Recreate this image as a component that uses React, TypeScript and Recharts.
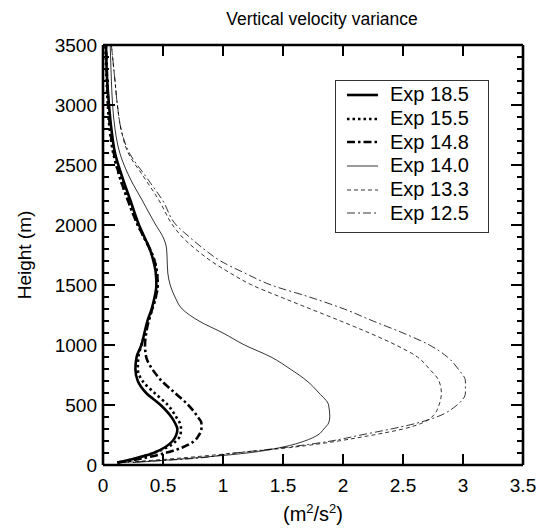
import { LineChart, Line, XAxis, YAxis, Legend } from "recharts";

// heights (m) shared by all profiles
const heights = [
  20, 50, 100, 150, 200, 250, 300, 350, 400, 500, 600, 700, 800, 900, 1000, 1100,
  1200, 1300, 1400, 1500, 1600, 1700, 1800, 1900, 2000, 2200, 2400, 2600, 2800, 3000, 3200, 3500,
];

const exp185 = [
  0.12, 0.25, 0.42, 0.52, 0.58, 0.61, 0.62, 0.6, 0.57, 0.48, 0.36, 0.29, 0.27, 0.28, 0.32, 0.345,
  0.37, 0.405, 0.43, 0.445, 0.44, 0.42, 0.39, 0.345, 0.3, 0.23, 0.16, 0.1, 0.07, 0.05, 0.035, 0.025,
];
const exp155 = [
  0.12, 0.26, 0.42, 0.54, 0.61, 0.645, 0.65, 0.64, 0.61, 0.54, 0.43, 0.33, 0.29, 0.295, 0.32, 0.35,
  0.38, 0.41, 0.44, 0.455, 0.45, 0.43, 0.39, 0.34, 0.29, 0.21, 0.14, 0.085, 0.055, 0.04, 0.03, 0.02,
];
const exp148 = [
  0.12, 0.3, 0.52, 0.67, 0.76, 0.8, 0.82, 0.82, 0.79, 0.71, 0.6, 0.49, 0.41, 0.36, 0.35, 0.36,
  0.38, 0.41, 0.44, 0.455, 0.45, 0.43, 0.39, 0.34, 0.29, 0.21, 0.14, 0.09, 0.06, 0.045, 0.035, 0.025,
];
const exp140 = [
  0.25, 0.65, 1.2, 1.5, 1.68, 1.79, 1.84, 1.88, 1.89, 1.88, 1.8, 1.7, 1.56, 1.4, 1.18, 1.0,
  0.8, 0.66, 0.6, 0.56, 0.54, 0.535, 0.53, 0.5, 0.44, 0.33, 0.22, 0.14, 0.1, 0.08, 0.07, 0.06,
];
const exp133 = [
  0.15, 0.55, 1.1, 1.6, 1.96, 2.25, 2.5, 2.66, 2.74, 2.8, 2.82, 2.8, 2.72, 2.62, 2.44, 2.22,
  1.98, 1.73, 1.48, 1.24, 1.06, 0.9, 0.77, 0.66, 0.58, 0.47, 0.34, 0.21, 0.15, 0.12, 0.1, 0.07,
];
const exp125 = [
  0.15, 0.7, 1.1, 1.55, 1.9, 2.15, 2.4, 2.62, 2.78, 2.95, 3.02, 3.02, 2.96, 2.87, 2.72, 2.5,
  2.25, 2.01, 1.72, 1.4, 1.18, 0.98, 0.84, 0.72, 0.61, 0.5, 0.36, 0.22, 0.15, 0.12, 0.1, 0.07,
];

const xTicks = [0, 0.5, 1, 1.5, 2, 2.5, 3, 3.5];
const yTicks = [
  0, 100, 200, 300, 400, 500, 600, 700, 800, 900, 1000, 1100, 1200, 1300, 1400, 1500, 1600, 1700,
  1800, 1900, 2000, 2100, 2200, 2300, 2400, 2500, 2600, 2700, 2800, 2900, 3000, 3100, 3200, 3300,
  3400, 3500,
];

const series = [
  { key: "e185", name: "Exp 18.5", values: exp185, width: 2.6, dash: undefined },
  { key: "e155", name: "Exp 15.5", values: exp155, width: 2.6, dash: "2.5 3" },
  { key: "e148", name: "Exp 14.8", values: exp148, width: 2.6, dash: "8 3 2.5 3" },
  { key: "e140", name: "Exp 14.0", values: exp140, width: 0.8, dash: undefined },
  { key: "e133", name: "Exp 13.3", values: exp133, width: 0.8, dash: "4 3" },
  { key: "e125", name: "Exp 12.5", values: exp125, width: 0.8, dash: "8 3 2 3" },
];

const data = heights.map((h, i) => {
  const row: Record<string, number> = { h };
  series.forEach((s) => (row[s.key] = s.values[i]));
  return row;
});

const FONT = "'Liberation Sans', Arial, Helvetica, sans-serif";
const frame = { stroke: "#000", strokeWidth: 2.6 };

const LeftTick = ({ x, y, payload }: any) => {
  const major = payload.value % 500 === 0;
  return (
    <g>
      <line x1={x} x2={x + (major ? 12 : 6)} y1={y} y2={y} stroke="#000" strokeWidth={2} />
      {major && (
        <text x={x - 6} y={y} textAnchor="end" dominantBaseline="central" fontSize={19} fontFamily={FONT} fill="#000">
          {payload.value}
        </text>
      )}
    </g>
  );
};

const RightTick = ({ x, y, payload }: any) => {
  const major = payload.value % 500 === 0;
  return <line x1={x} x2={x - (major ? 12 : 6)} y1={y} y2={y} stroke="#000" strokeWidth={2} />;
};

const BottomTick = ({ x, y, payload }: any) => (
  <g>
    <line x1={x} x2={x} y1={y} y2={y - 11} stroke="#000" strokeWidth={2} />
    <text x={x} y={y + 20} textAnchor="middle" dominantBaseline="central" fontSize={19} fontFamily={FONT} fill="#000">
      {payload.value}
    </text>
  </g>
);

const TopTick = ({ x, y }: any) => (
  <line x1={x} x2={x} y1={y} y2={y + 11} stroke="#000" strokeWidth={2} />
);

const LegendBox = () => (
  <div
    style={{
      border: "1px solid #333",
      background: "#fff",
      padding: "2px 0 7px 0",
      fontFamily: FONT,
      fontSize: 20,
      color: "#000",
    }}
  >
    {series.map((s) => (
      <div key={s.key} style={{ display: "flex", alignItems: "center", height: 23.7 }}>
        <svg width={54} height={10} style={{ flex: "none" }}>
          <line x1={11} x2={42} y1={5} y2={5} stroke="#000" strokeWidth={s.width} strokeDasharray={s.dash} />
        </svg>
        <span>{s.name}</span>
      </div>
    ))}
  </div>
);

export default function App() {
  return (
    <div style={{ position: "fixed", left: 0, top: 0, width: 536, height: 532, background: "#fff" }}>
      <div
        style={{
          position: "absolute", left: 122, top: 8, width: 400, textAlign: "center",
          fontFamily: FONT, fontSize: 17.5, lineHeight: "22px",
        }}
      >
        Vertical velocity variance
      </div>
      <div
        style={{
          position: "absolute", left: 25, top: 255, fontFamily: FONT, fontSize: 19, whiteSpace: "nowrap",
          transform: "translate(-50%, -50%) rotate(-90deg)",
        }}
      >
        Height (m)
      </div>
      <div
        style={{
          position: "absolute", left: 213, top: 500, width: 200, textAlign: "center",
          fontFamily: FONT, fontSize: 20, lineHeight: "28px",
        }}
      >
        (m<sup style={{ fontSize: 13, lineHeight: 0 }}>2</sup>/s<sup style={{ fontSize: 13, lineHeight: 0 }}>2</sup>)
      </div>
      <LineChart
        width={536}
        height={532}
        data={data}
        layout="vertical"
        margin={{ top: 44, right: 12, bottom: 27, left: 43 }}
        style={{ position: "absolute", left: 0, top: 0 }}
      >
        <XAxis
          type="number"
          domain={[0, 3.5]}
          ticks={xTicks}
          interval={0}
          height={40}
          tickSize={0}
          tickMargin={0}
          tickLine={false}
          axisLine={frame}
          tick={<BottomTick />}
        />
        <XAxis
          xAxisId="top"
          orientation="top"
          type="number"
          domain={[0, 3.5]}
          ticks={xTicks}
          interval={0}
          height={1}
          tickSize={0}
          tickMargin={0}
          tickLine={false}
          axisLine={frame}
          tick={<TopTick />}
        />
        <YAxis
          type="number"
          dataKey="h"
          domain={[0, 3500]}
          ticks={yTicks}
          interval={0}
          reversed
          width={60}
          tickSize={0}
          tickMargin={0}
          tickLine={false}
          axisLine={frame}
          tick={<LeftTick />}
        />
        <YAxis
          yAxisId="right"
          orientation="right"
          type="number"
          dataKey="h"
          domain={[0, 3500]}
          ticks={yTicks}
          interval={0}
          reversed
          width={1}
          tickSize={0}
          tickMargin={0}
          tickLine={false}
          axisLine={frame}
          tick={<RightTick />}
        />
        {/* invisible copy so the top/right frame axes get built */}
        <Line
          xAxisId="top"
          yAxisId="right"
          dataKey="e185"
          stroke="none"
          dot={false}
          legendType="none"
          isAnimationActive={false}
        />
        {series.map((s) => (
          <Line
            key={s.key}
            dataKey={s.key}
            name={s.name}
            type="monotone"
            stroke="#000"
            strokeWidth={s.width}
            strokeDasharray={s.dash}
            dot={false}
            isAnimationActive={false}
          />
        ))}
        <Legend
          layout="vertical"
          align="center"
          verticalAlign="middle"
          content={() => <LegendBox />}
          wrapperStyle={{ left: 335, top: 80, width: 154 }}
        />
      </LineChart>
    </div>
  );
}
